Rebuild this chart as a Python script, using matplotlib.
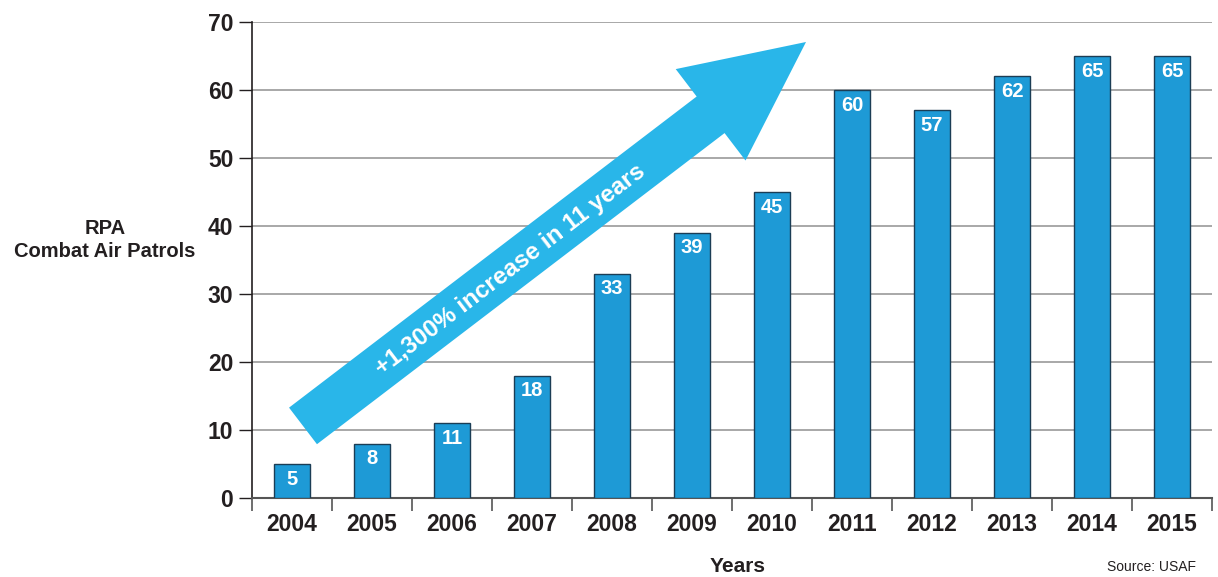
import numpy as np
import matplotlib.pyplot as plt
from matplotlib.patches import Polygon

years = ['2004', '2005', '2006', '2007', '2008', '2009', '2010', '2011', '2012', '2013', '2014', '2015']
patrols = [5, 8, 11, 18, 33, 39, 45, 60, 57, 62, 65, 65]
y_ticks = [0, 10, 20, 30, 40, 50, 60, 70]

plt.rcParams['font.family'] = ['Liberation Sans Narrow', 'Liberation Sans', 'DejaVu Sans']
plt.rcParams['font.weight'] = 'bold'

fig = plt.figure(figsize=(12.18, 5.77), dpi=100)
ax = fig.add_axes([252 / 1218, 79 / 577, 960 / 1218, 476 / 577])

x = np.arange(len(years))
ax.bar(x, patrols, width=0.45, color='#1e9ad6', edgecolor='#1b3d55', linewidth=1.0, zorder=3)

for xi, v in zip(x, patrols):
    ax.annotate(str(v), (xi, v), xytext=(0, -4), textcoords='offset points',
                ha='center', va='top', color='white', fontsize=14.5, fontweight='bold', zorder=5)

ax.set_xlim(-0.5, len(years) - 0.5)
ax.set_ylim(0, 70)
ax.set_yticks(y_ticks)
ax.set_yticklabels([str(t) for t in y_ticks], fontsize=16.5, fontweight='bold', color='#231f20')
ax.yaxis.grid(True, color='#9a9a9a', linewidth=1.2, zorder=0)
ax.tick_params(axis='y', length=9.5, width=1, color='#231f20', pad=4)

ax.set_xticks(x)
ax.set_xticklabels(years, fontsize=16.5, fontweight='bold', color='#231f20')
ax.set_xticks(np.arange(-0.5, len(years)), minor=True)
ax.tick_params(axis='x', which='major', length=0, pad=11)
ax.tick_params(axis='x', which='minor', length=9.5, width=1.2, color='#555555')

for s in ['top', 'right']:
    ax.spines[s].set_visible(False)
ax.spines['left'].set_color('#231f20')
ax.spines['left'].set_linewidth(1.2)
ax.spines['bottom'].set_color('#555555')
ax.spines['bottom'].set_linewidth(1.5)

# big arrow, drawn in pixel space from data anchors
def px(pt):
    return ax.transData.transform(pt)

tail = px((0.1375, 10.6))
tip = px((6.425, 67.06))
d = tip - tail
L = np.hypot(*d)
u = d / L
n = np.array([-u[1], u[0]])
shaft_w, head_w, head_len = 46 * 0.5, 115 * 0.5, 120
base = tip - u * head_len
pts = [tail + n * shaft_w, base + n * shaft_w, base + n * head_w, tip,
       base - n * head_w, base - n * shaft_w, tail - n * shaft_w]
arrow = Polygon(pts, closed=True, transform=None, facecolor='#29b6e9', edgecolor='none', zorder=4)
ax.add_artist(arrow)
ang = np.degrees(np.arctan2(d[1], d[0]))
ax.text(2.725, 33.5, '+1,300% increase in 11 years', rotation=ang, rotation_mode='anchor',
        ha='center', va='center', color='white', fontsize=17.5, fontweight='bold', zorder=6)

fig.text(105 / 1218, 1 - 240 / 577, 'RPA\nCombat Air Patrols', ha='center', va='center',
         fontsize=14.5, fontweight='bold', color='#231f20', linespacing=1.25)
fig.text(738 / 1218, 1 - 566 / 577, 'Years', ha='center', va='center',
         fontsize=15, fontweight='bold', color='#231f20')
fig.text(1196 / 1218, 1 - 567 / 577, 'Source: USAF', ha='right', va='center',
         fontsize=10, fontweight='normal', color='#231f20')

fig.savefig('out.png', dpi=100)
